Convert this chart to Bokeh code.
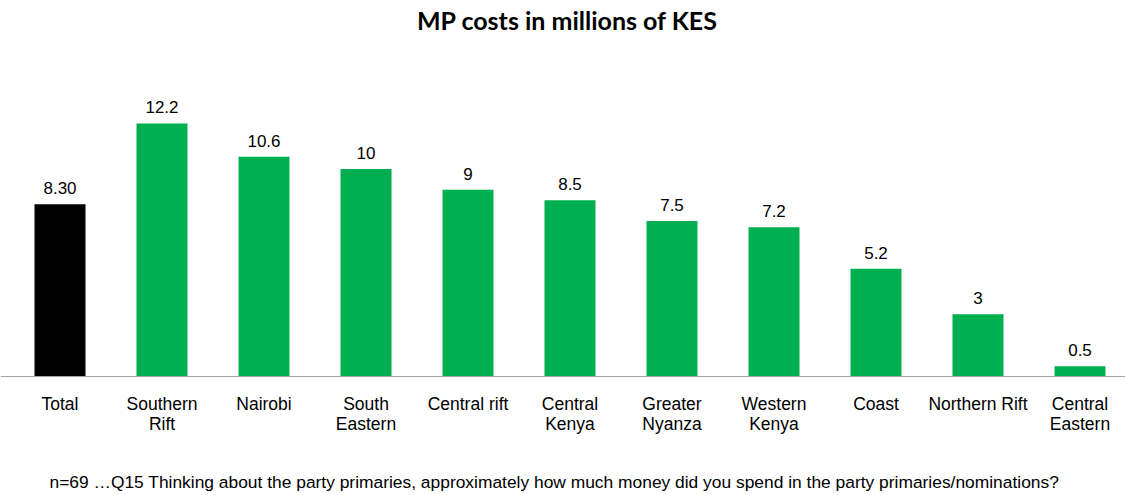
from bokeh.plotting import figure
from bokeh.models import Range1d, ColumnDataSource, Span
from bokeh.core.properties import value
from bokeh.embed import file_html
from bokeh.resources import INLINE

categories = ["Total", "Southern\nRift", "Nairobi", "South\nEastern", "Central rift",
              "Central\nKenya", "Greater\nNyanza", "Western\nKenya", "Coast",
              "Northern Rift", "Central\nEastern"]
values = [8.30, 12.2, 10.6, 10, 9, 8.5, 7.5, 7.2, 5.2, 3, 0.5]
value_labels = ["8.30", "12.2", "10.6", "10", "9", "8.5", "7.5", "7.2", "5.2", "3", "0.5"]
colors = ["#000000"] + ["#00B050"] * 10
title_text = "MP costs in millions of KES"
footnote = ("n=69 \u2026Q15 Thinking about the party primaries, approximately how much money "
            "did you spend in the party primaries/nominations?")

PX_X = 102.0   # pixels per category
PX_Y = 20.74   # pixels per unit
W, H = 1125, 495
BASE = 376     # baseline pixel from figure top

x0 = -59.5 / PX_X
y_top = BASE / PX_Y
y_bot = -(H - BASE) / PX_Y

p = figure(width=W, height=H, output_backend="svg", toolbar_location=None,
           x_range=Range1d(x0, x0 + W / PX_X), y_range=Range1d(y_bot, y_top),
           min_border=0)
p.axis.visible = False
p.grid.visible = False
p.outline_line_color = None
p.background_fill_color = "white"
p.border_fill_color = "white"

xs = list(range(len(categories)))
src = ColumnDataSource(dict(x=xs, top=values, color=colors, lab=value_labels))
p.vbar(x="x", top="top", bottom=0, width=0.5, fill_color="color", line_color=None, source=src)

p.add_layout(Span(location=0, dimension="width", line_color="#A6A6A6", line_width=1))

FONT = value("Liberation Sans")
p.text(x="x", y="top", text="lab", source=src, text_align="center", text_baseline="middle",
       y_offset=-16, text_font=FONT, text_font_size="17px", text_color="#000000")

line1 = [c.split("\n")[0] for c in categories]
line2 = [c.split("\n")[1] if "\n" in c else "" for c in categories]
csrc = ColumnDataSource(dict(x=xs, l1=line1, l2=line2, y=[0] * len(xs)))
p.text(x="x", y="y", text="l1", source=csrc, text_align="center", text_baseline="middle",
       y_offset=27, text_font=FONT, text_font_size="17.5px", text_color="#000000")
p.text(x="x", y="y", text="l2", source=csrc, text_align="center", text_baseline="middle",
       y_offset=47, text_font=FONT, text_font_size="17.5px", text_color="#000000")

# title
p.text(x=[x0 + 567 / PX_X], y=[y_top], text=[title_text], text_align="center",
       text_baseline="middle", y_offset=19, text_font=value("Lato"), text_font_style="bold",
       text_font_size="25px", text_color="#000000")

# footnote
p.text(x=[x0 + 49 / PX_X], y=[y_bot], text=[footnote], text_align="left",
       text_baseline="middle", y_offset=-14, text_font=FONT,
       text_font_size="17.4px", text_color="#000000")

open("out.html", "w").write(file_html(p, INLINE))
